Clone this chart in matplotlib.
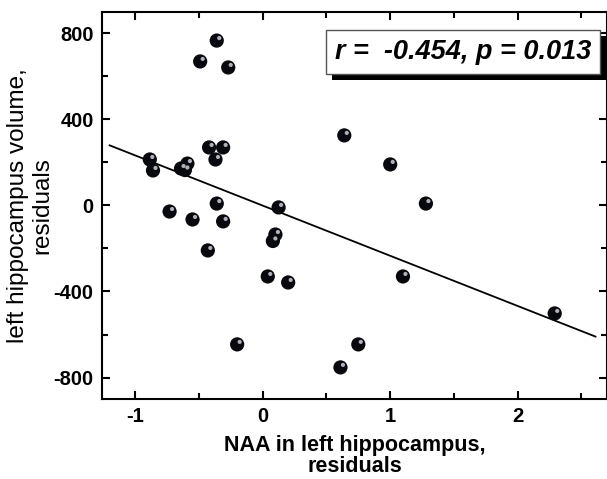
import numpy as np
import matplotlib.pyplot as plt
import matplotlib.patheffects as pe
from matplotlib.transforms import offset_copy
from matplotlib.ticker import MultipleLocator

plt.rcParams['font.family'] = ['Liberation Sans', 'DejaVu Sans']
plt.rcParams['axes.unicode_minus'] = False

# residuals
naa = [-0.885, -0.86, -0.73, -0.64, -0.61, -0.59, -0.55, -0.49, -0.42, -0.43,
       -0.36, -0.37, -0.36, -0.31, -0.31, -0.27, -0.20, 0.04, 0.08, 0.10,
       0.125, 0.20, 0.61, 0.64, 0.75, 1.00, 1.10, 1.28, 2.29]
volume = [214, 163, -28, 172, 165, 195, -65, 670, 270, -209,
          767, 214, 9, 270, -74, 642, -646, -330, -165, -135,
          -9, -358, -753, 326, -646, 191, -330, 9, -502]
stat_text = 'r =  -0.454, p = 0.013'

fig = plt.figure(figsize=(6.07, 4.79), dpi=100)
ax = fig.add_axes([0.168, 0.167, 0.832, 0.808])

# fit line
slope, icpt = np.polyfit(naa, volume, 1)
xs = np.array([-1.2, 2.61])
ax.plot(xs, slope * xs + icpt, color='black', lw=1.3, zorder=2)

# sphere-like markers: dark ball + small highlight
ax.scatter(naa, volume, s=105, color='#08080f', edgecolors='none', zorder=3)
hl = offset_copy(ax.transData, fig=fig, x=1.8, y=1.8, units='points')
ax.scatter(naa, volume, s=9, color='#b0b0bc', edgecolors='none', zorder=4,
           transform=hl)

ax.set_xlim(-1.26, 2.7)
ax.set_ylim(-900, 900)
ax.xaxis.set_major_locator(MultipleLocator(1))
ax.xaxis.set_minor_locator(MultipleLocator(0.5))
ax.yaxis.set_major_locator(MultipleLocator(400))
ax.yaxis.set_minor_locator(MultipleLocator(200))
ax.tick_params(which='both', direction='in', top=True, right=True, width=1.5)
ax.tick_params(which='major', length=6, labelsize=14.5, pad=6)
ax.tick_params(which='minor', length=4)
for lab in ax.get_xticklabels() + ax.get_yticklabels():
    lab.set_fontweight('bold')
for sp in ax.spines.values():
    sp.set_linewidth(1.5)

ax.set_xlabel('NAA in left hippocampus,\nresiduals', fontsize=15.5,
              fontweight='bold', labelpad=6, linespacing=1.0)
ax.set_ylabel('left hippocampus volume,\nresiduals', fontsize=17.5,
              labelpad=0, linespacing=1.12)

t = ax.text(0.969, 0.897, stat_text, transform=ax.transAxes, ha='right', va='center',
            fontsize=19.5, fontweight='bold', fontstyle='italic', zorder=5,
            bbox=dict(boxstyle='square,pad=0.33', facecolor='white',
                      edgecolor='#555555', lw=1.0))
# drop shadow under the box
t.get_bbox_patch().set_path_effects([
    pe.SimplePatchShadow(offset=(4.5, -4.5), shadow_rgbFace='black', alpha=1.0),
    pe.Normal()])

fig.savefig('out.png', dpi=100)
